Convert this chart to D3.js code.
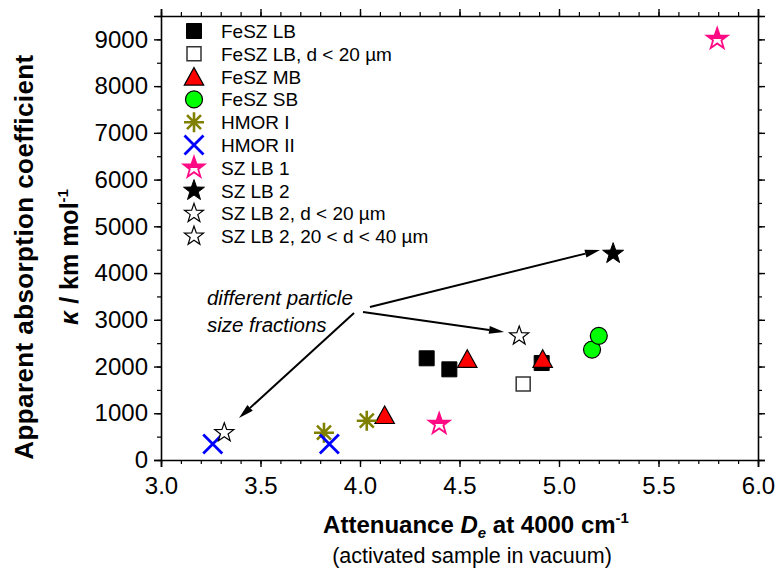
<!DOCTYPE html>
<html>
<head>
<meta charset="utf-8">
<script src="https://cdn.jsdelivr.net/npm/d3@7"></script>
<style>
    body { margin: 0; background: #fff; }
    text { font-family: "Liberation Sans", Arial, sans-serif; fill: #000; }
</style>
</head>
<body>
<div id="chart"></div>
<script>
// ---- data ----
const seriesNames = ["FeSZ LB", "FeSZ LB, d < 20 µm", "FeSZ MB", "FeSZ SB", "HMOR I", "HMOR II",
    "SZ LB 1", "SZ LB 2", "SZ LB 2, d < 20 µm", "SZ LB 2, 20 < d < 40 µm"];

const feszLbX = [4.335, 4.449, 4.913];
const feszLbY = [2176, 1940, 2075];
const feszLbFineX = [4.82];
const feszLbFineY = [1626];
const feszMbX = [4.124, 4.539, 4.918];
const feszMbY = [963, 2165, 2165];
const feszSbX = [5.166, 5.200];
const feszSbY = [2362, 2657];
const hmor1X = [3.819, 4.034];
const hmor1Y = [584, 841];
const hmor2X = [3.260, 3.846];
const hmor2Y = [342, 342];
const szLb1X = [4.398, 5.795];
const szLb1Y = [770, 9007];
const szLb2X = [5.272];
const szLb2Y = [4415];
const szLb2FineX = [4.800];
const szLb2FineY = [2653];
const szLb2MidX = [3.318];
const szLb2MidY = [584];

const xTicks = [3.0, 3.5, 4.0, 4.5, 5.0, 5.5, 6.0];
const yTicks = [0, 1000, 2000, 3000, 4000, 5000, 6000, 7000, 8000, 9000];

// annotation: label anchor and arrows [x1, y1, x2, y2] in data units
const noteLines = ["different particle", "size fractions"];
const noteX = 3.231;
const noteY = [3327, 2739];
const arrows = [
    [4.050, 3273, 5.206, 4493],
    [4.015, 3166, 4.724, 2739],
    [3.970, 3145, 3.392, 899]
];

// ---- chart ----
const W = 776, H = 575;
const margin = {top: 16, right: 18, bottom: 115, left: 161};
const width = W - margin.left - margin.right;
const height = H - margin.top - margin.bottom;

const svg = d3.select("#chart").append("svg")
    .attr("width", W)
    .attr("height", H);

const defs = svg.append("defs");
const grad = defs.append("linearGradient")
    .attr("id", "halfPink")
    .attr("x1", 0).attr("y1", 0).attr("x2", 0).attr("y2", 1);
grad.append("stop").attr("offset", "55%").attr("stop-color", "#ff0a85");
grad.append("stop").attr("offset", "55%").attr("stop-color", "#fff");

const g = svg.append("g")
    .attr("transform", "translate(" + margin.left + "," + margin.top + ")");

const x = d3.scaleLinear().domain([3.0, 6.0]).range([0, width]);
const y = d3.scaleLinear().domain([0, 9500]).range([height, 0]);

// marker shapes
function starPath(R) {
    const r = R * 0.4;
    const pts = [];
    for (let i = 0; i < 10; i++) {
        const a = -Math.PI / 2 + i * Math.PI / 5;
        const rad = i % 2 ? r : R;
        pts.push([rad * Math.cos(a), rad * Math.sin(a)]);
    }
    return "M" + pts.map(p => p[0].toFixed(2) + "," + p[1].toFixed(2)).join("L") + "Z";
}

const shapes = {
    square: "M-7.5,-7.5H7.5V7.5H-7.5Z",
    openSquare: "M-7,-7H7V7H-7Z",
    triangle: "M0,-9L9.7,8.5H-9.7Z",
    circle: "M8.5,0A8.5,8.5 0 1,1 -8.5,0A8.5,8.5 0 1,1 8.5,0Z",
    asterisk: "M0,-10V10M-10,0H10M-7,-7L7,7M-7,7L7,-7",
    cross: "M-9.5,-9.5L9.5,9.5M-9.5,9.5L9.5,-9.5",
    bigStar: starPath(11),
    star: starPath(10)
};

const series = [
    {name: seriesNames[0], xs: feszLbX, ys: feszLbY, shape: "square", fill: "#000", stroke: "#000", sw: 1},
    {name: seriesNames[1], xs: feszLbFineX, ys: feszLbFineY, shape: "openSquare", fill: "#fff", stroke: "#333", sw: 1.5},
    {name: seriesNames[2], xs: feszMbX, ys: feszMbY, shape: "triangle", fill: "#ff0000", stroke: "#000", sw: 1.2},
    {name: seriesNames[3], xs: feszSbX, ys: feszSbY, shape: "circle", fill: "#00ff00", stroke: "#000", sw: 1.2},
    {name: seriesNames[4], xs: hmor1X, ys: hmor1Y, shape: "asterisk", fill: "none", stroke: "#808000", sw: 2.6},
    {name: seriesNames[5], xs: hmor2X, ys: hmor2Y, shape: "cross", fill: "none", stroke: "#0000ff", sw: 2.8},
    {name: seriesNames[6], xs: szLb1X, ys: szLb1Y, shape: "bigStar", fill: "url(#halfPink)", stroke: "#ff0a85", sw: 1.8},
    {name: seriesNames[7], xs: szLb2X, ys: szLb2Y, shape: "bigStar", fill: "#000", stroke: "#000", sw: 1},
    {name: seriesNames[8], xs: szLb2FineX, ys: szLb2FineY, shape: "star", fill: "#fff", stroke: "#000", sw: 1.2},
    {name: seriesNames[9], xs: szLb2MidX, ys: szLb2MidY, shape: "star", fill: "#fff", stroke: "#000", sw: 1.2}
];

// axes, outward ticks on all four sides, minor ticks first
const xMinor = d3.range(30, 61).map(v => v / 10);
const yMinor = d3.range(0, 9501, 500);

[
    [() => d3.axisBottom(x), xMinor, xTicks, "translate(0," + height + ")", d3.format(".1f"), 10],
    [() => d3.axisTop(x), xMinor, xTicks, "translate(0,0)", null, 5],
    [() => d3.axisLeft(y), yMinor, yTicks, "translate(0,0)", d3.format("d"), 6],
    [() => d3.axisRight(y), yMinor, yTicks, "translate(" + width + ",0)", null, 5]
].forEach(([mk, minor, major, tr, fmt, pad]) => {
    const mi = g.append("g").attr("transform", tr)
        .call(mk().tickValues(minor).tickSize(4).tickFormat(""));
    mi.select(".domain").remove();
    mi.selectAll(".tick line").attr("stroke", "#000").attr("stroke-width", 1.2);

    const ma = g.append("g").attr("transform", tr)
        .call(mk().tickValues(major).tickSize(7).tickPadding(pad).tickFormat(fmt || ""));
    ma.select(".domain").attr("stroke", "#000").attr("stroke-width", 1.6);
    ma.selectAll(".tick line").attr("stroke", "#000").attr("stroke-width", 1.4);
    ma.selectAll("text")
        .style("font-size", "24px")
        .style("font-family", "'Liberation Sans', Arial, sans-serif")
        .attr("fill", "#000");
});

// annotation arrows
arrows.forEach(a => {
    const x1 = x(a[0]), y1 = y(a[1]), x2 = x(a[2]), y2 = y(a[3]);
    const ang = Math.atan2(y2 - y1, x2 - x1);
    const L = 15, hw = 4;
    const bx = x2 - L * Math.cos(ang), by = y2 - L * Math.sin(ang);
    g.append("line")
        .attr("x1", x1).attr("y1", y1)
        .attr("x2", bx).attr("y2", by)
        .attr("stroke", "#000").attr("stroke-width", 2);
    g.append("path")
        .attr("d", "M" + x2 + "," + y2 +
            "L" + (bx - hw * Math.sin(ang)) + "," + (by + hw * Math.cos(ang)) +
            "L" + (bx + hw * Math.sin(ang)) + "," + (by - hw * Math.cos(ang)) + "Z")
        .attr("fill", "#000");
});

noteLines.forEach((t, i) => {
    g.append("text")
        .attr("x", x(noteX))
        .attr("y", y(noteY[i]))
        .style("font-size", "20.5px")
        .style("font-style", "italic")
        .text(t);
});

// points
series.forEach(s => {
    g.selectAll(null)
        .data(s.xs.map((v, i) => [v, s.ys[i]]))
        .enter()
        .append("path")
        .attr("transform", d => "translate(" + x(d[0]) + "," + y(d[1]) + ")")
        .attr("d", shapes[s.shape])
        .attr("fill", s.fill)
        .attr("stroke", s.stroke)
        .attr("stroke-width", s.sw);
});

// legend
const legend = svg.append("g").attr("transform", "translate(194,31)");
series.forEach((s, i) => {
    const row = legend.append("g").attr("transform", "translate(0," + (i * 22.8) + ")");
    row.append("path")
        .attr("d", shapes[s.shape])
        .attr("fill", s.fill)
        .attr("stroke", s.stroke)
        .attr("stroke-width", s.sw);
    row.append("text")
        .attr("x", 27)
        .attr("y", 7)
        .style("font-size", "19px")
        .text(s.name);
});

// axis titles
svg.append("g").attr("transform", "translate(33,257) rotate(-90)")
    .append("text")
    .attr("text-anchor", "middle")
    .style("font-size", "26px")
    .style("font-weight", "bold")
    .style("letter-spacing", "0.4px")
    .text("Apparent absorption coefficient");

const yTitle2 = svg.append("g").attr("transform", "translate(78,257) rotate(-90)")
    .append("text")
    .attr("text-anchor", "middle")
    .style("font-size", "25px")
    .style("font-weight", "bold");
yTitle2.append("tspan").style("font-style", "italic").text("κ");
yTitle2.append("tspan").text(" / km mol");
yTitle2.append("tspan").attr("dy", -10).style("font-size", "15px").text("-1");

const xTitle = svg.append("text")
    .attr("x", 476)
    .attr("y", 533)
    .attr("text-anchor", "middle")
    .style("font-size", "24px")
    .style("font-weight", "bold");
xTitle.append("tspan").text("Attenuance ");
xTitle.append("tspan").style("font-style", "italic").text("D");
xTitle.append("tspan").attr("dy", 5).style("font-style", "italic").style("font-size", "15px").text("e");
xTitle.append("tspan").attr("dy", -5).text(" at 4000 cm");
xTitle.append("tspan").attr("dy", -10).style("font-size", "15px").text("-1");

svg.append("text")
    .attr("x", 472)
    .attr("y", 563)
    .attr("text-anchor", "middle")
    .style("font-size", "21.5px")
    .text("(activated sample in vacuum)");
</script>
</body>
</html>
